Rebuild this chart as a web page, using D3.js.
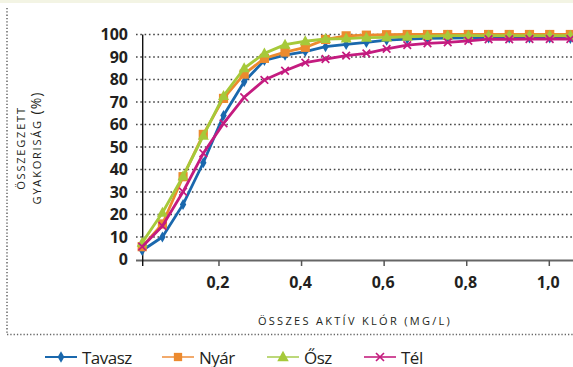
<!DOCTYPE html>
<html><head><meta charset="utf-8">
<script src="https://cdn.jsdelivr.net/npm/d3@7"></script>
<style>
html,body{margin:0;padding:0;background:#fff;}
svg{display:block;font-family:"Open Sans",sans-serif;}
</style></head>
<body>
<svg id="c" width="573" height="367"></svg>
<script>
// ---- data ----
const xValues = [0.014,0.063,0.113,0.162,0.211,0.261,0.310,0.360,0.409,0.458,0.508,0.557,0.606,0.656,0.705,0.754,0.804,0.853,0.903,0.952,1.001,1.051];
const tavasz = [4,10,24.5,43,64,79,88.5,90.8,92.4,94.6,95.6,96.5,97.5,98,98.3,98.4,98.5,98.5,98.5,98.5,98.4,98.2];
const nyar   = [5.7,15.8,36.8,55.6,71.6,82.4,89.4,92.2,94.3,97.8,99.4,99.7,99.9,100,100,100,100,100,100,100,100,100];
const osz    = [7.5,20.8,37,55,72.7,85,91.6,95.5,97,98,98.2,98.6,98.7,99,99.3,99.5,99.5,99.5,99.5,99.5,99.5,99.5];
const tel    = [5.7,14.9,30.1,47.2,60.5,72.1,79.8,83.9,87.5,89.1,90.6,91.6,93.6,95.3,96.1,96.5,97.2,97.9,97.9,98,98,98];
const seriesNames = ["Tavasz","Nyár","Ősz","Tél"];
const yTicks = [0,10,20,30,40,50,60,70,80,90,100];
const xTicks = [0.2,0.4,0.6,0.8,1.0];
const xTickLabels = ["0,2","0,4","0,6","0,8","1,0"];
const yTitle1 = "ÖSSZEGZETT";
const yTitle2 = "GYAKORISÁG";
const xTitle = "ÖSSZES AKTÍV KLÓR (MG/L)";

// ---- layout ----
const svg = d3.select("#c");
const W = 573;
const axisX = 142.7, y0 = 259.5, y100 = 34.5;
const x = d3.scaleLinear().domain([0,1]).range([136.4,549.3]);
const y = d3.scaleLinear().domain([0,100]).range([y0,y100]);
const txt = "#231f20";

const styles = [
  {name:seriesNames[0], data:tavasz, color:"#1a68ad", lcolor:"#1a68ad", marker:"diamond"},
  {name:seriesNames[1], data:nyar,   color:"#ec8a2e", lcolor:"#f2aa6c", marker:"square"},
  {name:seriesNames[2], data:osz,    color:"#a6c93a", lcolor:"#bcd87a", marker:"triangle"},
  {name:seriesNames[3], data:tel,    color:"#c41b7f", lcolor:"#d04d98", marker:"cross"}
];

// frame decorations
svg.append("rect").attr("x",0).attr("y",0).attr("width",W).attr("height",3).attr("fill","#f3f4e4");
svg.append("line").attr("x1",7).attr("x2",7).attr("y1",8).attr("y2",334.5)
  .attr("stroke","#666").attr("stroke-width",1.5).attr("stroke-dasharray","1.3,2");
svg.append("line").attr("x1",7).attr("x2",W).attr("y1",334.5).attr("y2",334.5)
  .attr("stroke","#666").attr("stroke-width",1.5).attr("stroke-dasharray","1.3,2");

// gridlines
svg.append("g").selectAll("line").data(yTicks.filter(d=>d>0)).join("line")
  .attr("x1",136).attr("x2",W).attr("y1",d=>y(d)).attr("y2",d=>y(d))
  .attr("stroke","#444").attr("stroke-width",1.6).attr("stroke-dasharray","1.6,2.7");

// y labels
svg.append("g").selectAll("text").data(yTicks).join("text")
  .attr("x",128).attr("y",d=>y(d)+5.7).attr("text-anchor","end")
  .attr("font-size",16).attr("font-weight",700).attr("fill",txt).text(d=>d);

// x axis
svg.append("line").attr("x1",136).attr("x2",W).attr("y1",y0+1).attr("y2",y0+1)
  .attr("stroke","#666").attr("stroke-width",2.2);
svg.append("g").selectAll("line").data(xTicks).join("line")
  .attr("x1",d=>x(d)).attr("x2",d=>x(d)).attr("y1",y0+1).attr("y2",y0+6.5)
  .attr("stroke","#555").attr("stroke-width",1.5);
svg.append("g").selectAll("text").data(xTicks).join("text")
  .attr("x",d=>x(d)-1).attr("y",288).attr("text-anchor","middle")
  .attr("font-size",16).attr("font-weight",700).attr("fill",txt).text((d,i)=>xTickLabels[i]);
// y axis
svg.append("line").attr("x1",axisX).attr("x2",axisX).attr("y1",y100).attr("y2",y0+6.5)
  .attr("stroke","#111").attr("stroke-width",1.4);

// titles
svg.append("text").attr("x",355).attr("y",325).attr("text-anchor","middle")
  .attr("font-size",11).attr("letter-spacing",2.3).attr("fill",txt).text(xTitle);
const yt = svg.append("g").attr("transform","translate(0,148) rotate(-90)");
yt.append("text").attr("x",0).attr("y",25).attr("text-anchor","middle")
  .attr("font-size",11).attr("letter-spacing",1.8).attr("fill",txt).text(yTitle1);
const t2 = yt.append("text").attr("x",0).attr("y",40.5).attr("text-anchor","middle")
  .attr("font-size",11).attr("letter-spacing",1.8).attr("fill",txt);
t2.append("tspan").text(yTitle2+" ");
t2.append("tspan").attr("font-size",14).attr("letter-spacing",1).text("(%)");

// markers
function drawMarker(g, type, color, s){
  if(type==="diamond"){
    g.append("path").attr("d",`M0,${-5.5*s}L${3.2*s},0L0,${5.5*s}L${-3.2*s},0Z`).attr("fill",color);
  } else if(type==="square"){
    g.append("rect").attr("x",-4.6*s).attr("y",-4.6*s).attr("width",9.2*s).attr("height",9.2*s).attr("fill",color);
  } else if(type==="triangle"){
    g.append("path").attr("d",`M0,${-6*s}L${5.5*s},${4*s}L${-5.5*s},${4*s}Z`).attr("fill",color);
  } else {
    g.append("path").attr("d",`M${-3.8*s},${-3.8*s}L${3.8*s},${3.8*s}M${3.8*s},${-3.8*s}L${-3.8*s},${3.8*s}`)
      .attr("stroke",color).attr("stroke-width",1.7).attr("fill","none");
  }
}

svg.append("clipPath").attr("id","clip").append("rect")
  .attr("x",axisX-8).attr("y",20).attr("width",W).attr("height",250);
const plot = svg.append("g").attr("clip-path","url(#clip)");
const line = d3.line().x((d,i)=>x(xValues[i])).y(d=>y(d));
styles.forEach(s=>{
  const g = plot.append("g");
  g.append("path").datum(s.data).attr("d",line).attr("fill","none")
    .attr("stroke",s.color).attr("stroke-width",2.8).attr("stroke-linejoin","round");
  s.data.forEach((v,i)=>{
    const m = g.append("g").attr("transform",`translate(${x(xValues[i])},${y(v)})`);
    drawMarker(m, s.marker, s.color, 1);
  });
});

// legend
const legX = [45,162,267,364];
const lg = svg.append("g");
styles.forEach((s,i)=>{
  const gx = legX[i], gy = 357;
  lg.append("line").attr("x1",gx).attr("x2",gx+32).attr("y1",gy).attr("y2",gy)
    .attr("stroke",s.lcolor).attr("stroke-width",2);
  const m = lg.append("g").attr("transform",`translate(${gx+16},${gy})`);
  drawMarker(m, s.marker, s.color, s.marker==="square"?0.9:1.05);
  lg.append("text").attr("x",gx+37).attr("y",gy+6.5).attr("font-size",17)
    .attr("letter-spacing",-0.5).attr("fill",txt).text(s.name);
});
</script>
</body></html>
